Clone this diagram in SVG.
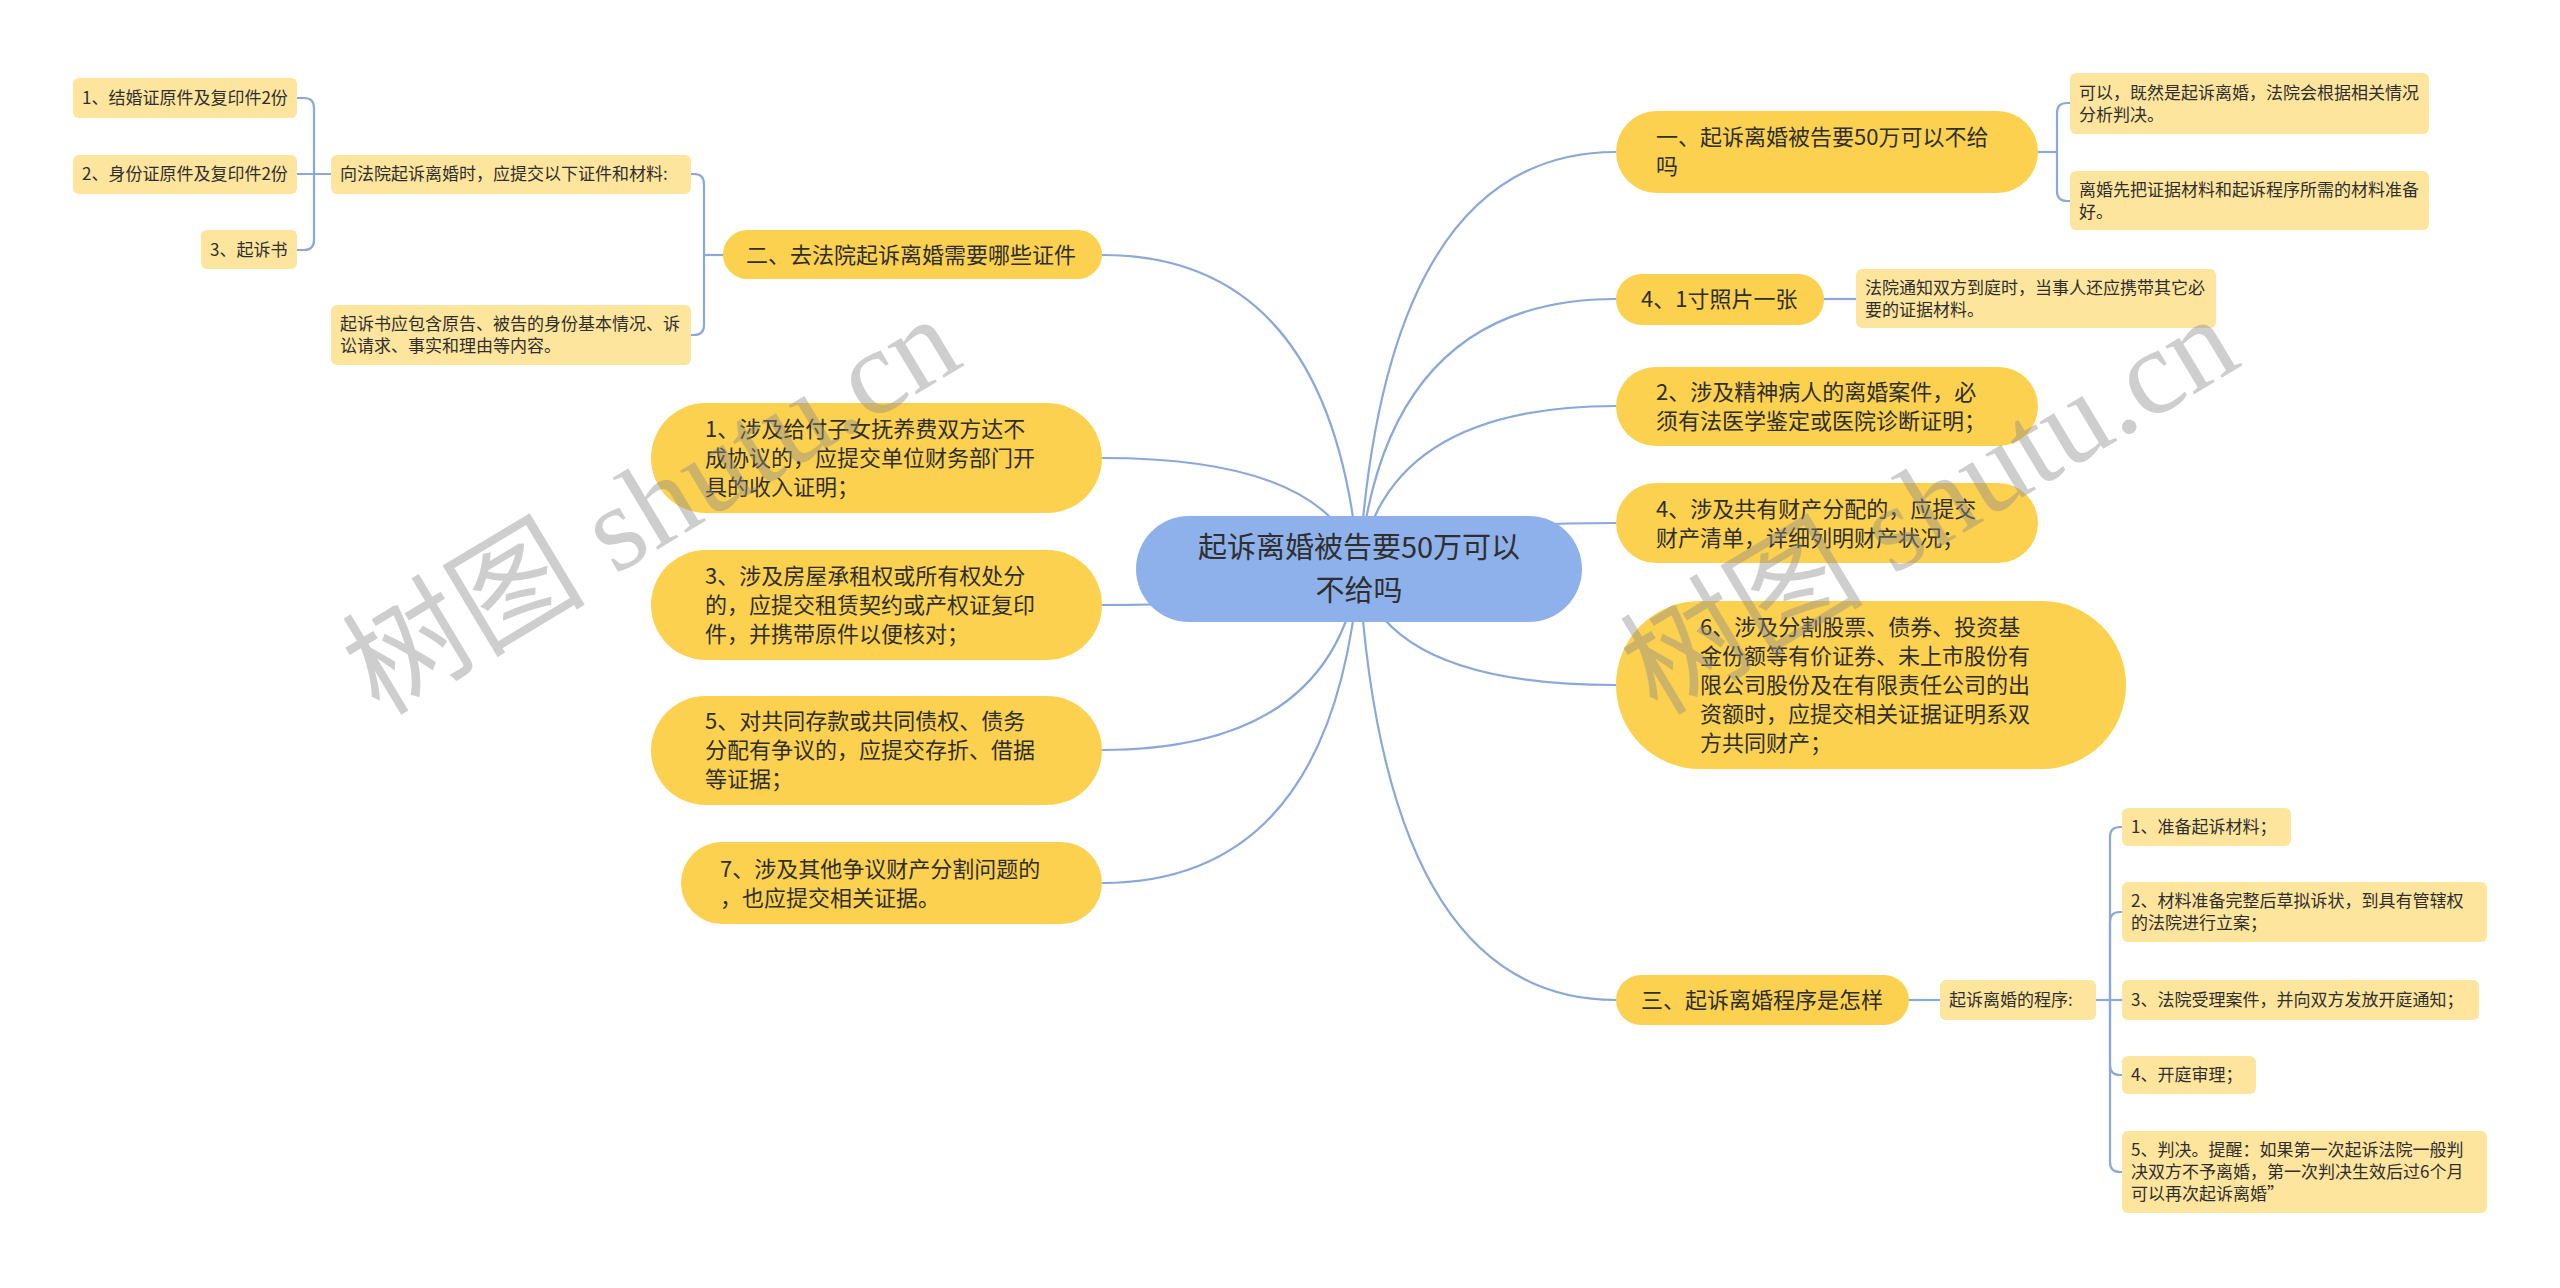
<svg xmlns="http://www.w3.org/2000/svg" width="2560" height="1288" viewBox="0 0 2560 1288">
<style>
text { font-family: "Noto Sans CJK SC", "Noto Sans", sans-serif; fill: #2f2f2f; }
.big rect { fill: #FCD14F; }
.sm rect { fill: #FDE59E; }
.center rect { fill: #8EB1EB; }
.t30 { font-size: 29px; }
.t22 { font-size: 22px; }
.t17 { font-size: 17px; }
.conn path { fill: none; stroke: #8AA8DA; stroke-width: 2.2; }
.wm { font-family: "Liberation Serif", "Noto Sans CJK SC", serif; font-size: 122px; fill: #8a8a8a; fill-opacity: 0.42; }
</style>
<rect x="0" y="0" width="2560" height="1288" fill="#ffffff"/>

<g id="connectors" class="conn">
  <path d="M1359 569 Q1385 152 1616 152"/>
  <path d="M1359 569 Q1385 299 1616 299"/>
  <path d="M1359 569 Q1385 406 1616 406"/>
  <path d="M1359 569 Q1385 523 1616 523"/>
  <path d="M1359 569 Q1385 685 1616 685"/>
  <path d="M1359 569 Q1385 1000 1616 1000"/>
  <path d="M1359 569 Q1333 255 1102 255"/>
  <path d="M1359 569 Q1333 458 1102 458"/>
  <path d="M1359 569 Q1333 605 1102 605"/>
  <path d="M1359 569 Q1333 750 1102 750"/>
  <path d="M1359 569 Q1333 883 1102 883"/>
  <path d="M723 255 H704"/>
  <path d="M704 255 V184 Q704 174 694 174 H691"/>
  <path d="M704 255 V325 Q704 335 694 335 H691"/>
  <path d="M331 174 H297"/>
  <path d="M314 174 V108 Q314 98 304 98 H297"/>
  <path d="M314 174 V240 Q314 250 304 250 H297"/>
  <path d="M2038 152 H2057"/>
  <path d="M2057 152 V113 Q2057 103 2067 103 H2070"/>
  <path d="M2057 152 V191 Q2057 201 2067 201 H2070"/>
  <path d="M1824 299 H1856"/>
  <path d="M1909 1000 H1940"/>
  <path d="M2096 1000 H2122"/>
  <path d="M2110 1000 V837 Q2110 827 2120 827 H2122"/>
  <path d="M2110 1000 V922 Q2110 912 2120 912 H2122"/>
  <path d="M2110 1000 V1065 Q2110 1075 2120 1075 H2122"/>
  <path d="M2110 1000 V1162 Q2110 1172 2120 1172 H2122"/>
</g>

<g id="center" class="center">
  <rect x="1136" y="516" width="446" height="106" rx="53"/>
  <text class="t30" text-anchor="middle"><tspan x="1359" y="558">起诉离婚被告要50万可以</tspan><tspan x="1359" y="601">不给吗</tspan></text>
</g>

<g id="n-er" class="big">
  <rect x="723" y="230" width="379" height="49" rx="24.5"/>
  <text class="t22" x="746" y="263">二、去法院起诉离婚需要哪些证件</text>
</g>
<g id="n-xiang" class="sm">
  <rect x="331" y="155" width="360" height="39" rx="6"/>
  <text class="t17" x="340" y="180">向法院起诉离婚时，应提交以下证件和材料:</text>
</g>
<g id="n-qisushu" class="sm">
  <rect x="331" y="305" width="360" height="60" rx="6"/>
  <text class="t17"><tspan x="340" y="330">起诉书应包含原告、被告的身份基本情况、诉</tspan><tspan x="340" y="352">讼请求、事实和理由等内容。</tspan></text>
</g>
<g id="n-jiehun" class="sm">
  <rect x="73" y="78" width="224" height="40" rx="6"/>
  <text class="t17" x="82" y="104">1、结婚证原件及复印件2份</text>
</g>
<g id="n-shenfen" class="sm">
  <rect x="73" y="155" width="224" height="39" rx="6"/>
  <text class="t17" x="82" y="180">2、身份证原件及复印件2份</text>
</g>
<g id="n-qisu3" class="sm">
  <rect x="201" y="230" width="96" height="39" rx="6"/>
  <text class="t17" x="210" y="256">3、起诉书</text>
</g>
<g id="n-l1" class="big">
  <rect x="651" y="403" width="451" height="110" rx="55"/>
  <text class="t22"><tspan x="705" y="437">1、涉及给付子女抚养费双方达不</tspan><tspan x="705" y="466">成协议的，应提交单位财务部门开</tspan><tspan x="705" y="495">具的收入证明；</tspan></text>
</g>
<g id="n-l3" class="big">
  <rect x="651" y="550" width="451" height="110" rx="55"/>
  <text class="t22"><tspan x="705" y="584">3、涉及房屋承租权或所有权处分</tspan><tspan x="705" y="613">的，应提交租赁契约或产权证复印</tspan><tspan x="705" y="642">件，并携带原件以便核对；</tspan></text>
</g>
<g id="n-l5" class="big">
  <rect x="651" y="696" width="451" height="109" rx="54.5"/>
  <text class="t22"><tspan x="705" y="729">5、对共同存款或共同债权、债务</tspan><tspan x="705" y="758">分配有争议的，应提交存折、借据</tspan><tspan x="705" y="787">等证据；</tspan></text>
</g>
<g id="n-l7" class="big">
  <rect x="681" y="842" width="421" height="82" rx="41"/>
  <text class="t22"><tspan x="720" y="877">7、涉及其他争议财产分割问题的</tspan><tspan x="720" y="906">，也应提交相关证据。</tspan></text>
</g>

<g id="n-yi" class="big">
  <rect x="1616" y="111" width="422" height="82" rx="41"/>
  <text class="t22"><tspan x="1656" y="145">一、起诉离婚被告要50万可以不给</tspan><tspan x="1656" y="174">吗</tspan></text>
</g>
<g id="n-keyi" class="sm">
  <rect x="2070" y="73" width="359" height="61" rx="6"/>
  <text class="t17"><tspan x="2079" y="99">可以，既然是起诉离婚，法院会根据相关情况</tspan><tspan x="2079" y="121">分析判决。</tspan></text>
</g>
<g id="n-lihun" class="sm">
  <rect x="2070" y="171" width="359" height="59" rx="6"/>
  <text class="t17"><tspan x="2079" y="196">离婚先把证据材料和起诉程序所需的材料准备</tspan><tspan x="2079" y="218">好。</tspan></text>
</g>
<g id="n-r4cun" class="big">
  <rect x="1616" y="274" width="208" height="51" rx="25.5"/>
  <text class="t22" x="1641" y="307">4、1寸照片一张</text>
</g>
<g id="n-tongzhi" class="sm">
  <rect x="1856" y="269" width="360" height="59" rx="6"/>
  <text class="t17"><tspan x="1865" y="294">法院通知双方到庭时，当事人还应携带其它必</tspan><tspan x="1865" y="316">要的证据材料。</tspan></text>
</g>
<g id="n-r2" class="big">
  <rect x="1616" y="367" width="422" height="79" rx="39.5"/>
  <text class="t22"><tspan x="1656" y="400">2、涉及精神病人的离婚案件，必</tspan><tspan x="1656" y="429">须有法医学鉴定或医院诊断证明；</tspan></text>
</g>
<g id="n-r4" class="big">
  <rect x="1616" y="483" width="422" height="80" rx="40"/>
  <text class="t22"><tspan x="1656" y="517">4、涉及共有财产分配的，应提交</tspan><tspan x="1656" y="546">财产清单，详细列明财产状况；</tspan></text>
</g>
<g id="n-r6" class="big">
  <rect x="1616" y="601" width="510" height="168" rx="84"/>
  <text class="t22"><tspan x="1700" y="635">6、涉及分割股票、债券、投资基</tspan><tspan x="1700" y="664">金份额等有价证券、未上市股份有</tspan><tspan x="1700" y="693">限公司股份及在有限责任公司的出</tspan><tspan x="1700" y="722">资额时，应提交相关证据证明系双</tspan><tspan x="1700" y="751">方共同财产；</tspan></text>
</g>
<g id="n-san" class="big">
  <rect x="1616" y="975" width="293" height="50" rx="25"/>
  <text class="t22" x="1641" y="1008">三、起诉离婚程序是怎样</text>
</g>
<g id="n-chengxu" class="sm">
  <rect x="1940" y="980" width="156" height="40" rx="6"/>
  <text class="t17" x="1949" y="1006">起诉离婚的程序:</text>
</g>
<g id="n-p1" class="sm">
  <rect x="2122" y="808" width="169" height="38" rx="6"/>
  <text class="t17" x="2131" y="833">1、准备起诉材料；</text>
</g>
<g id="n-p2" class="sm">
  <rect x="2122" y="882" width="365" height="60" rx="6"/>
  <text class="t17"><tspan x="2131" y="907">2、材料准备完整后草拟诉状，到具有管辖权</tspan><tspan x="2131" y="929">的法院进行立案；</tspan></text>
</g>
<g id="n-p3" class="sm">
  <rect x="2122" y="980" width="357" height="40" rx="6"/>
  <text class="t17" x="2131" y="1006">3、法院受理案件，并向双方发放开庭通知；</text>
</g>
<g id="n-p4" class="sm">
  <rect x="2122" y="1056" width="134" height="38" rx="6"/>
  <text class="t17" x="2131" y="1081">4、开庭审理；</text>
</g>
<g id="n-p5" class="sm">
  <rect x="2122" y="1131" width="365" height="82" rx="6"/>
  <text class="t17"><tspan x="2131" y="1156">5、判决。提醒：如果第一次起诉法院一般判</tspan><tspan x="2131" y="1178">决双方不予离婚，第一次判决生效后过6个月</tspan><tspan x="2131" y="1200">可以再次起诉离婚”</tspan></text>
</g>

<g id="watermarks">
  <text class="wm" transform="translate(653 508) rotate(-31)" x="0" y="38" text-anchor="middle">树图 shutu.cn</text>
  <text class="wm" transform="translate(1931 508) rotate(-31)" x="0" y="38" text-anchor="middle">树图 shutu.cn</text>
</g>
</svg>
